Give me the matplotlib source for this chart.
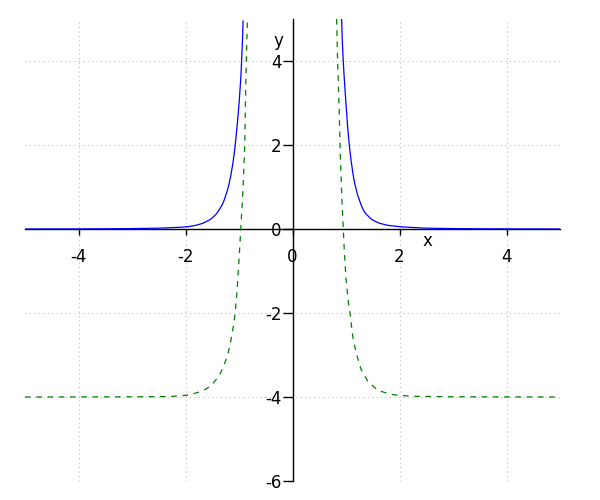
import matplotlib
matplotlib.use('Agg')
import matplotlib.pyplot as plt

# ----------------------------------------------------------------------------------------
# 曲线数据
# 蓝色实线, 左分支 / 右分支
blue_left_x = [-5.0, -4.0, -3.5, -3.0, -2.5, -2.12, -1.996, -1.9, -1.8, -1.685, -1.62, -1.55,
               -1.50, -1.434, -1.40, -1.35, -1.31, -1.279, -1.24, -1.215, -1.19, -1.154,
               -1.12, -1.09, -1.073, -1.05, -1.03, -1.015, -0.998, -0.985, -0.97, -0.958,
               -0.948, -0.935, -0.923]
blue_left_y = [0.0, 0.002, 0.005, 0.01, 0.02, 0.04, 0.05, 0.065, 0.09, 0.132, 0.17, 0.216,
               0.265, 0.345, 0.40, 0.50, 0.59, 0.68, 0.83, 0.93, 1.05, 1.27,
               1.52, 1.79, 1.97, 2.27, 2.52, 2.75, 3.0, 3.25, 3.52, 3.8,
               4.1, 4.5, 4.95]
blue_right_x = [0.918, 0.93, 0.949, 0.962, 0.975, 0.988, 1.0, 1.015, 1.03, 1.045, 1.062, 1.09,
                1.124, 1.145, 1.17, 1.195, 1.217, 1.25, 1.28, 1.31, 1.343, 1.38, 1.42,
                1.46, 1.498, 1.55, 1.62, 1.68, 1.749, 1.85, 2.01, 2.185, 2.5, 3.0, 3.5,
                4.2, 5.0]
blue_right_y = [5.02, 4.5, 4.0, 3.7, 3.45, 3.2, 2.97, 2.72, 2.45, 2.22, 2.0, 1.68,
                1.37, 1.2, 1.05, 0.92, 0.81, 0.69, 0.58, 0.49, 0.41, 0.35, 0.30,
                0.25, 0.215, 0.18, 0.14, 0.12, 0.096, 0.075, 0.055, 0.04, 0.02, 0.01, 0.005,
                0.002, 0.0]
# 绿色虚线, 左分支 / 右分支
green_left_x = [-5.0, -3.0, -2.31, -1.996, -1.85, -1.685, -1.58, -1.499, -1.42, -1.342,
                -1.28, -1.217, -1.17, -1.136, -1.10, -1.073, -1.05, -1.03, -0.998,
                -0.967, -0.924, -0.892, -0.873, -0.843]
green_left_y = [-4.0, -3.995, -3.99, -3.96, -3.92, -3.86, -3.78, -3.70, -3.57, -3.42,
                -3.24, -3.02, -2.78, -2.54, -2.28, -2.0, -1.68, -1.34, -0.70,
                0.0, 0.97, 2.0, 3.52, 5.0]
green_right_x = [0.824, 0.843, 0.875, 0.893, 0.925, 0.949, 0.969, 1.0, 1.044, 1.075,
                 1.124, 1.187, 1.28, 1.405, 1.592, 1.843, 2.185, 3.0, 5.0]
green_right_y = [5.0, 4.0, 2.73, 1.77, 0.65, 0.0, -0.54, -1.18, -1.74, -2.0,
                 -2.54, -2.94, -3.34, -3.62, -3.84, -3.94, -3.98, -3.995, -4.0]
# 刻度
x_ticks = [-4, -2, 0, 2, 4]
y_ticks = [-6, -4, -2, 0, 2, 4]
# ----------------------------------------------------------------------------------------

plt.rcParams['font.family'] = ['DejaVu Sans']
# 用普通连字符作负号
plt.rcParams['axes.unicode_minus'] = False

fig = plt.figure(figsize=(6, 5), dpi=100)
ax = fig.add_axes([25 / 600, 19 / 500, 535 / 600, 462 / 500])

# 画曲线
for xs, ys in [(blue_left_x, blue_left_y), (blue_right_x, blue_right_y)]:
    ax.plot(xs, ys, color='#0000ff', lw=0.9, zorder=3)
for xs, ys in [(green_left_x, green_left_y), (green_right_x, green_right_y)]:
    ax.plot(xs, ys, color='#007f00', lw=0.9, linestyle=(0, (4.5, 4.5)), zorder=3)

ax.set_xlim(-5, 5)
ax.set_ylim(-6, 5)

# 坐标轴穿过原点
ax.spines['left'].set_position(('data', 0))
ax.spines['bottom'].set_position(('data', 0))
ax.spines['right'].set_visible(False)
ax.spines['top'].set_visible(False)
for s in ['left', 'bottom']:
    ax.spines[s].set_linewidth(1.0)
    ax.spines[s].set_zorder(2)

ax.set_xticks(x_ticks)
ax.set_yticks(y_ticks)
ax.tick_params(axis='x', direction='out', length=4.5, width=1, pad=9.5, labelsize=12)
ax.tick_params(axis='y', direction='out', length=7.5, width=1, pad=0.5, labelsize=12)

# 网格线
ax.grid(True, linestyle=(0, (1, 3)), color='#bbbbbb', lw=0.8)

# 轴标签
ax.text(0.753, 0.519, 'x', transform=ax.transAxes, ha='center', va='center', fontsize=12)
ax.text(0.474, 0.952, 'y', transform=ax.transAxes, ha='center', va='center', fontsize=12)

plt.savefig('out.png', dpi=100)
